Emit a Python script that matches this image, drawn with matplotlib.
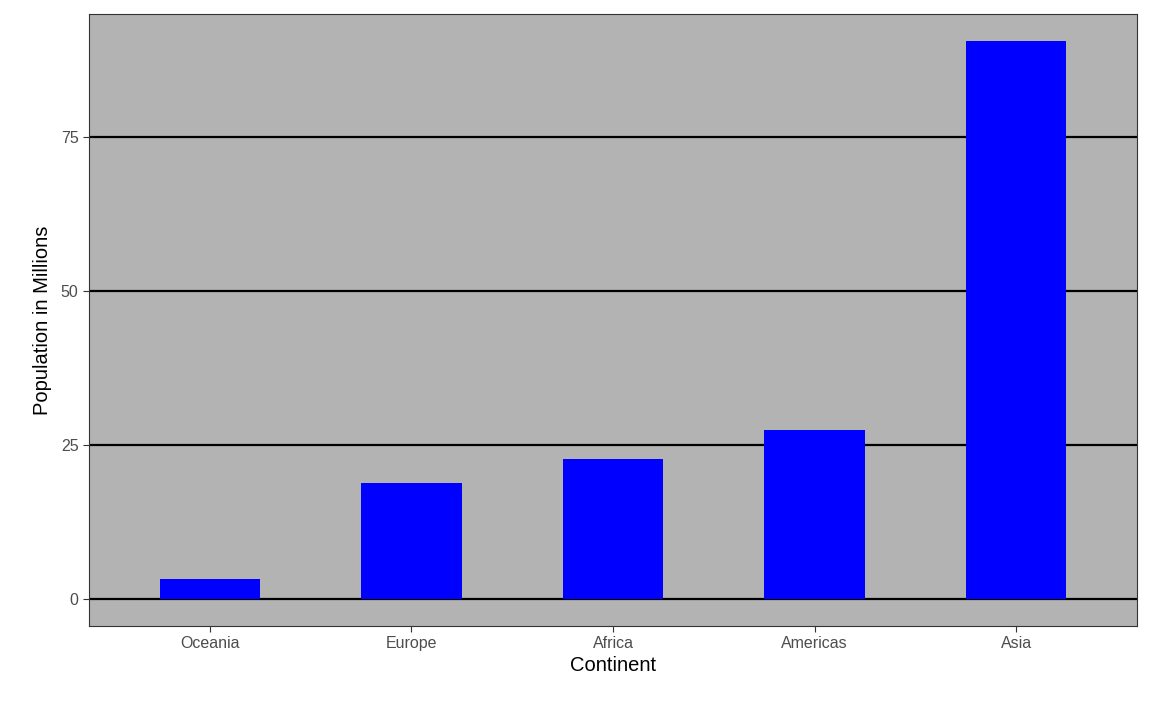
import matplotlib
matplotlib.use("Agg")
import matplotlib.pyplot as plt

plt.rcParams['font.family'] = ['Liberation Sans', 'DejaVu Sans']

continents = ['Oceania', 'Europe', 'Africa', 'Americas', 'Asia']
population = [3.25, 18.8, 22.7, 27.4, 90.6]

fig = plt.figure(figsize=(11.52, 7.11), dpi=100)
ax = fig.add_axes([89/1152, 1-626/711, (1137-89)/1152, (626-14)/711])
ax.set_facecolor('#b3b3b3')

x = list(range(1, len(continents) + 1))
ax.bar(x, population, width=0.5, color='#0000ff', zorder=3)

ax.set_xlim(0.4, 5.6)
ax.set_ylim(-4.4, 95.0)
ax.set_yticks([0, 25, 50, 75])
ax.set_xticks(x)
ax.set_xticklabels(continents)
ax.grid(axis='y', color='black', linewidth=1.6, zorder=1)
ax.set_axisbelow(True)

for s in ax.spines.values():
    s.set_color('#333333')
    s.set_linewidth(0.8)
ax.tick_params(colors='#333333', labelsize=11.5, length=4, width=0.8)
for lab in ax.get_xticklabels() + ax.get_yticklabels():
    lab.set_color('#4d4d4d')

ax.set_xlabel('Continent', fontsize=14.5, labelpad=3)
ax.set_ylabel('Population in Millions', fontsize=14.5, labelpad=6)

fig.savefig('out.png', dpi=100)
